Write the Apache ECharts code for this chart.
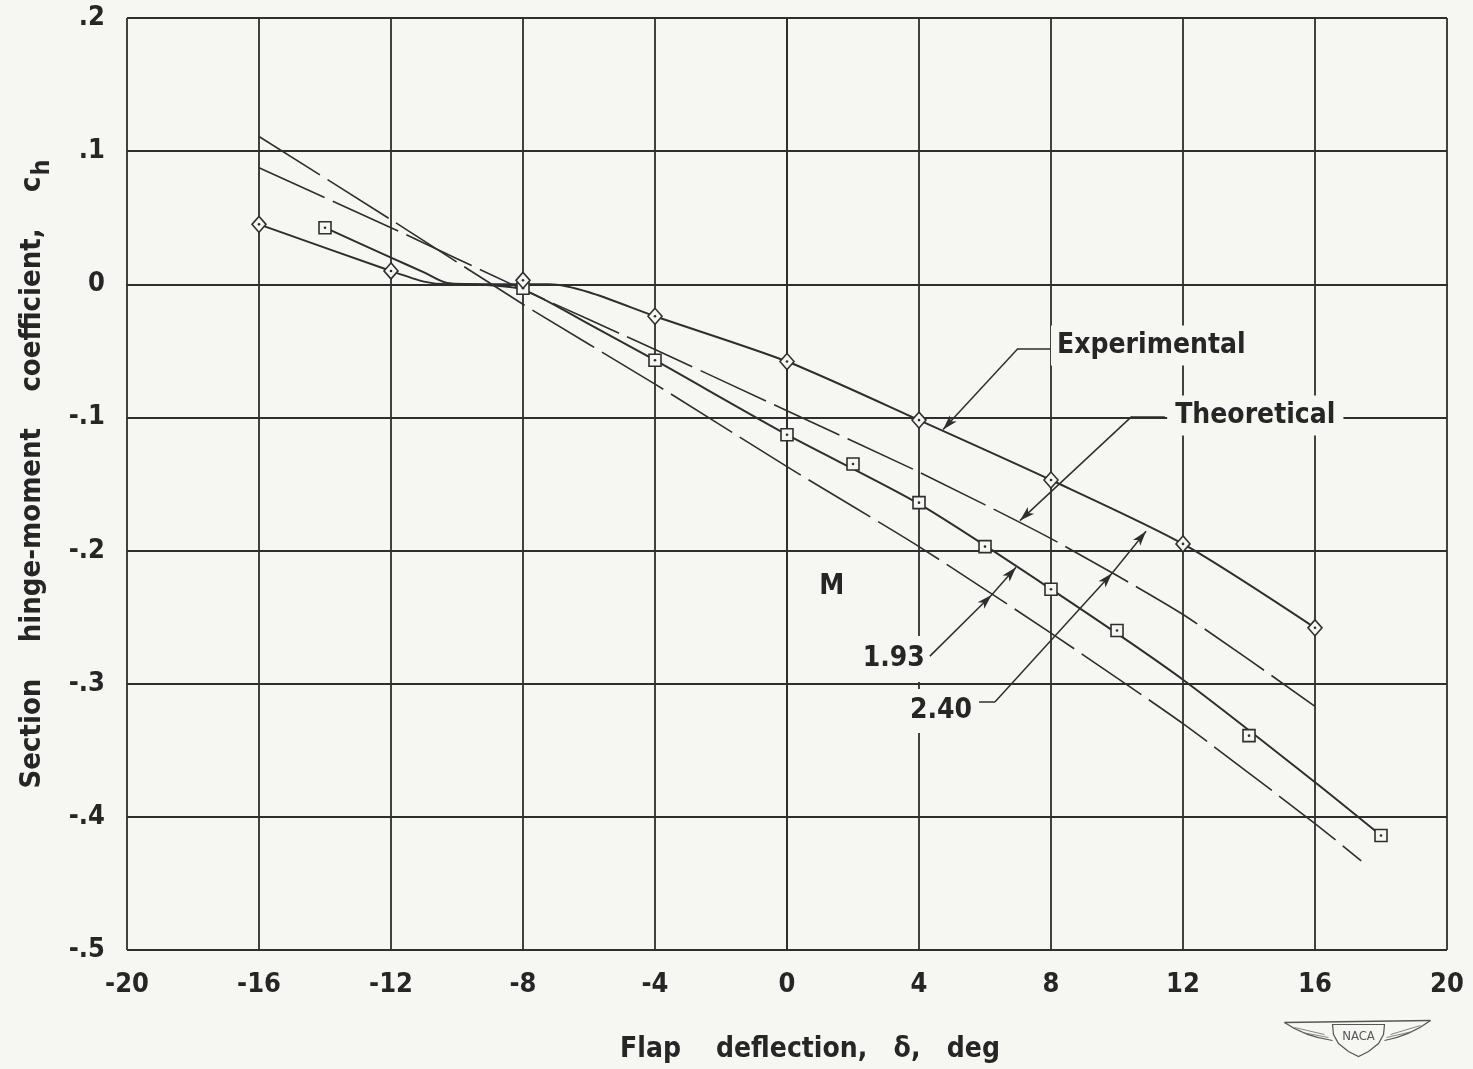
<!DOCTYPE html>
<html>
<head>
<meta charset="utf-8">
<script src="https://cdn.jsdelivr.net/npm/echarts@6/dist/echarts.min.js"></script>
<style>
  html, body { margin: 0; padding: 0; background: #f6f6f3; }
  #chart { width: 1473px; height: 1069px; }
</style>
</head>
<body>
<div id="chart"></div>
<script>
// Axis ticks and their printed labels
const xTicks = [-20, -16, -12, -8, -4, 0, 4, 8, 12, 16, 20];
const xTickLabels = ['-20', '-16', '-12', '-8', '-4', '0', '4', '8', '12', '16', '20'];
const yTicks = [-0.5, -0.4, -0.3, -0.2, -0.1, 0, 0.1, 0.2];
const yTickLabels = ['-.5', '-.4', '-.3', '-.2', '-.1', '0', '.1', '.2'];

// Test points, M = 2.40 (diamonds)
const deltaM240 = [-16, -12, -8, -4, 0, 4, 8, 12, 16];
const chM240 = [0.045, 0.010, 0.003, -0.024, -0.058, -0.102, -0.147, -0.195, -0.258];

// Test points, M = 1.93 (squares)
const deltaM193 = [-14, -8, -4, 0, 2, 4, 6, 8, 10, 14, 18];
const chM193 = [0.0425, -0.003, -0.057, -0.113, -0.135, -0.164, -0.197, -0.229, -0.260, -0.339, -0.414];

// Faired experimental curves
const fairM240Delta = [-16, -12, -11, -10.3, -7.2, -6, -4, 0, 4, 8, 12, 16];
const fairM240Ch = [0.045, 0.010, 0.002, 0, 0, -0.006, -0.024, -0.058, -0.102, -0.147, -0.195, -0.258];
const fairM193Delta = [-14, -12, -11, -10.3, -9.4, -8, -6, -4, 0, 4, 8, 12, 16, 18];
const fairM193Ch = [0.0425, 0.020, 0.009, 0.001, 0, -0.004, -0.030, -0.057, -0.113, -0.165, -0.229, -0.297, -0.374, -0.414];

// Theoretical curves
const theoryM193Delta = [-16, -12, -8, -4, 0, 4, 8, 12, 16, 17.4];
const theoryM193Ch = [0.111, 0.0485, -0.015, -0.075, -0.137, -0.197, -0.262, -0.330, -0.405, -0.433];
const theoryM240Delta = [-16, -12, -8, -4, 0, 4, 8, 12, 16];
const theoryM240Ch = [0.0875, 0.0425, -0.004, -0.049, -0.095, -0.141, -0.191, -0.248, -0.317];

const INK = '#2e2e2e';
const TEXT = '#262626';
const BG = '#f6f6f3';
const FONT = '"DejaVu Sans Condensed", "DejaVu Sans", sans-serif';

const pairs = (xs, ys) => xs.map((x, i) => [x, ys[i]]);
const xLabelOf = v => xTickLabels[xTicks.indexOf(Math.round(v))] || '';
const yLabelOf = v => {
  const k = Math.round(v * 10);
  const i = yTicks.findIndex(t => Math.round(t * 10) === k);
  return i >= 0 ? yTickLabels[i] : '';
};

const chart = echarts.init(document.getElementById('chart'), null, { renderer: 'canvas' });

const solidCurve = (name, xs, ys) => ({
  name, type: 'line', data: pairs(xs, ys), smooth: 0.25,
  showSymbol: false, symbol: 'none', silent: true, z: 3,
  lineStyle: { color: INK, width: 2 }
});
const dashedCurve = (name, xs, ys) => ({
  name, type: 'line', data: pairs(xs, ys), smooth: 0.2,
  showSymbol: false, symbol: 'none', silent: true, z: 3,
  lineStyle: { color: INK, width: 1.6, type: [72, 9] }
});
const markers = (name, xs, ys, symbol, size) => ({
  name, type: 'scatter', data: pairs(xs, ys), symbol, symbolSize: size, z: 5, silent: true,
  itemStyle: { color: BG, borderColor: INK, borderWidth: 1.6, opacity: 1 }
});
const dots = (name, xs, ys) => ({
  name, type: 'scatter', data: pairs(xs, ys), symbol: 'circle', symbolSize: 2.6, z: 6, silent: true,
  itemStyle: { color: INK, opacity: 1 }
});

const labelStyle = (extra) => Object.assign({
  show: true, fontFamily: FONT, fontWeight: 'bold', fontSize: 28, color: TEXT,
  backgroundColor: BG, verticalAlign: 'middle', position: [0, 0]
}, extra);

const annotations = {
  type: 'scatter', symbolSize: 0, silent: true, z: 8,
  itemStyle: { opacity: 1 },
  data: [
    { value: [8.0, -0.046], label: labelStyle({ formatter: 'Experimental', align: 'left', padding: [6, 4, 6, 6] }) },
    { value: [11.52, -0.0985], label: labelStyle({ formatter: 'Theoretical', align: 'left', padding: [6, 8, 6, 8] }) },
    { value: [1.36, -0.227], label: labelStyle({ formatter: 'M', align: 'center', padding: [2, 2, 2, 2] }) },
    { value: [4.30, -0.2815], label: labelStyle({ formatter: '1.93', align: 'right', padding: [10, 4, 8, 6] }) },
    { value: [5.79, -0.3205], label: labelStyle({ formatter: '2.40', align: 'right', padding: [8, 6, 8, 6] }) }
  ]
};

const seg = (a, b, arrow) => [
  { coord: a, symbol: 'none' },
  { coord: b, symbol: arrow ? 'arrow' : 'none' }
];
const leaders = {
  type: 'line', data: [], silent: true, z: 7,
  markLine: {
    silent: true, animation: false, symbolSize: [7, 15],
    lineStyle: { color: INK, width: 1.5, type: 'solid' },
    label: { show: false },
    data: [
      seg([7.97, -0.0482], [7.0, -0.0482], false),
      seg([7.0, -0.0482], [4.73, -0.109], true),
      seg([11.45, -0.0992], [10.45, -0.0992], false),
      seg([10.45, -0.0992], [7.06, -0.1775], true),
      seg([4.33, -0.2793], [6.2, -0.2333], true),
      seg([6.2, -0.2333], [6.94, -0.2126], true),
      seg([5.82, -0.3138], [6.30, -0.3138], false),
      seg([6.30, -0.3138], [9.85, -0.2170], true),
      seg([9.85, -0.2170], [10.88, -0.1855], true)
    ]
  }
};

const option = {
  animation: false,
  backgroundColor: BG,
  grid: { left: 127, right: 26, top: 18, bottom: 118, containLabel: false },
  xAxis: {
    type: 'value', min: -20, max: 20, interval: 4,
    axisLine: { show: true, lineStyle: { color: INK, width: 2 } },
    axisTick: { show: false },
    splitLine: { show: true, lineStyle: { color: INK, width: 1.8 } },
    axisLabel: { formatter: xLabelOf, fontFamily: FONT, fontWeight: 'bold', fontSize: 27, color: TEXT, margin: 21 },
    name: 'Flap    deflection,   δ,   deg',
    nameLocation: 'middle', nameGap: 86,
    nameTextStyle: { fontFamily: FONT, fontWeight: 'bold', fontSize: 28, color: TEXT, padding: [0, 0, 0, 46] }
  },
  yAxis: {
    type: 'value', min: -0.5, max: 0.2, interval: 0.1,
    axisLine: { show: true, lineStyle: { color: INK, width: 2 } },
    axisTick: { show: false },
    splitLine: { show: true, lineStyle: { color: INK, width: 1.8 } },
    axisLabel: { formatter: yLabelOf, fontFamily: FONT, fontWeight: 'bold', fontSize: 27, color: TEXT, margin: 22 },
    name: '{a|Section    hinge-moment    coefficient,    c}{s|h}',
    nameLocation: 'middle', nameRotate: 90, nameGap: 72,
    nameTextStyle: {
      padding: [0, 0, 0, 20],
      rich: {
        a: { fontFamily: FONT, fontWeight: 'bold', fontSize: 29, color: TEXT },
        s: { fontFamily: FONT, fontWeight: 'bold', fontSize: 25, color: TEXT, padding: [20, 0, 0, 1] }
      }
    }
  },
  series: [
    dashedCurve('Theory M=1.93', theoryM193Delta, theoryM193Ch),
    dashedCurve('Theory M=2.40', theoryM240Delta, theoryM240Ch),
    solidCurve('Experiment M=1.93', fairM193Delta, fairM193Ch),
    solidCurve('Experiment M=2.40', fairM240Delta, fairM240Ch),
    markers('M=1.93 points', deltaM193, chM193, 'rect', 12),
    markers('M=2.40 points', deltaM240, chM240, 'diamond', [14, 16]),
    dots('M=1.93 centres', deltaM193, chM193),
    dots('M=2.40 centres', deltaM240, chM240),
    leaders,
    annotations
  ],
  graphic: [
    {
      type: 'group', left: 1282, top: 1018, silent: true,
      children: [
        { type: 'line', shape: { x1: 0, y1: 6, x2: 146, y2: 4 }, style: { stroke: '#555', lineWidth: 1.3 } },
        { type: 'bezierCurve', shape: { x1: 0, y1: 6, cpx1: 20, cpy1: 20, x2: 48, y2: 24 }, style: { stroke: '#555', lineWidth: 1.2, fill: null } },
        { type: 'bezierCurve', shape: { x1: 146, y1: 4, cpx1: 126, cpy1: 19, x2: 100, y2: 24 }, style: { stroke: '#555', lineWidth: 1.2, fill: null } },
        { type: 'line', shape: { x1: 10, y1: 11, x2: 40, y2: 18 }, style: { stroke: '#777', lineWidth: 0.9 } },
        { type: 'line', shape: { x1: 18, y1: 16, x2: 44, y2: 21 }, style: { stroke: '#777', lineWidth: 0.9 } },
        { type: 'line', shape: { x1: 136, y1: 9, x2: 106, y2: 18 }, style: { stroke: '#777', lineWidth: 0.9 } },
        { type: 'line', shape: { x1: 128, y1: 15, x2: 102, y2: 21 }, style: { stroke: '#777', lineWidth: 0.9 } },
        { type: 'polygon', shape: { points: [[48, 8], [100, 8], [99, 18], [94, 27], [84, 35], [74, 40], [64, 35], [54, 27], [49, 18]] }, style: { stroke: '#555', lineWidth: 1.2, fill: BG } },
        { type: 'text', x: 74, y: 20, style: { text: 'NACA', fontFamily: FONT, fontSize: 13, fill: '#555', align: 'center', verticalAlign: 'middle' } }
      ]
    }
  ]
};

chart.setOption(option);
</script>
</body>
</html>
